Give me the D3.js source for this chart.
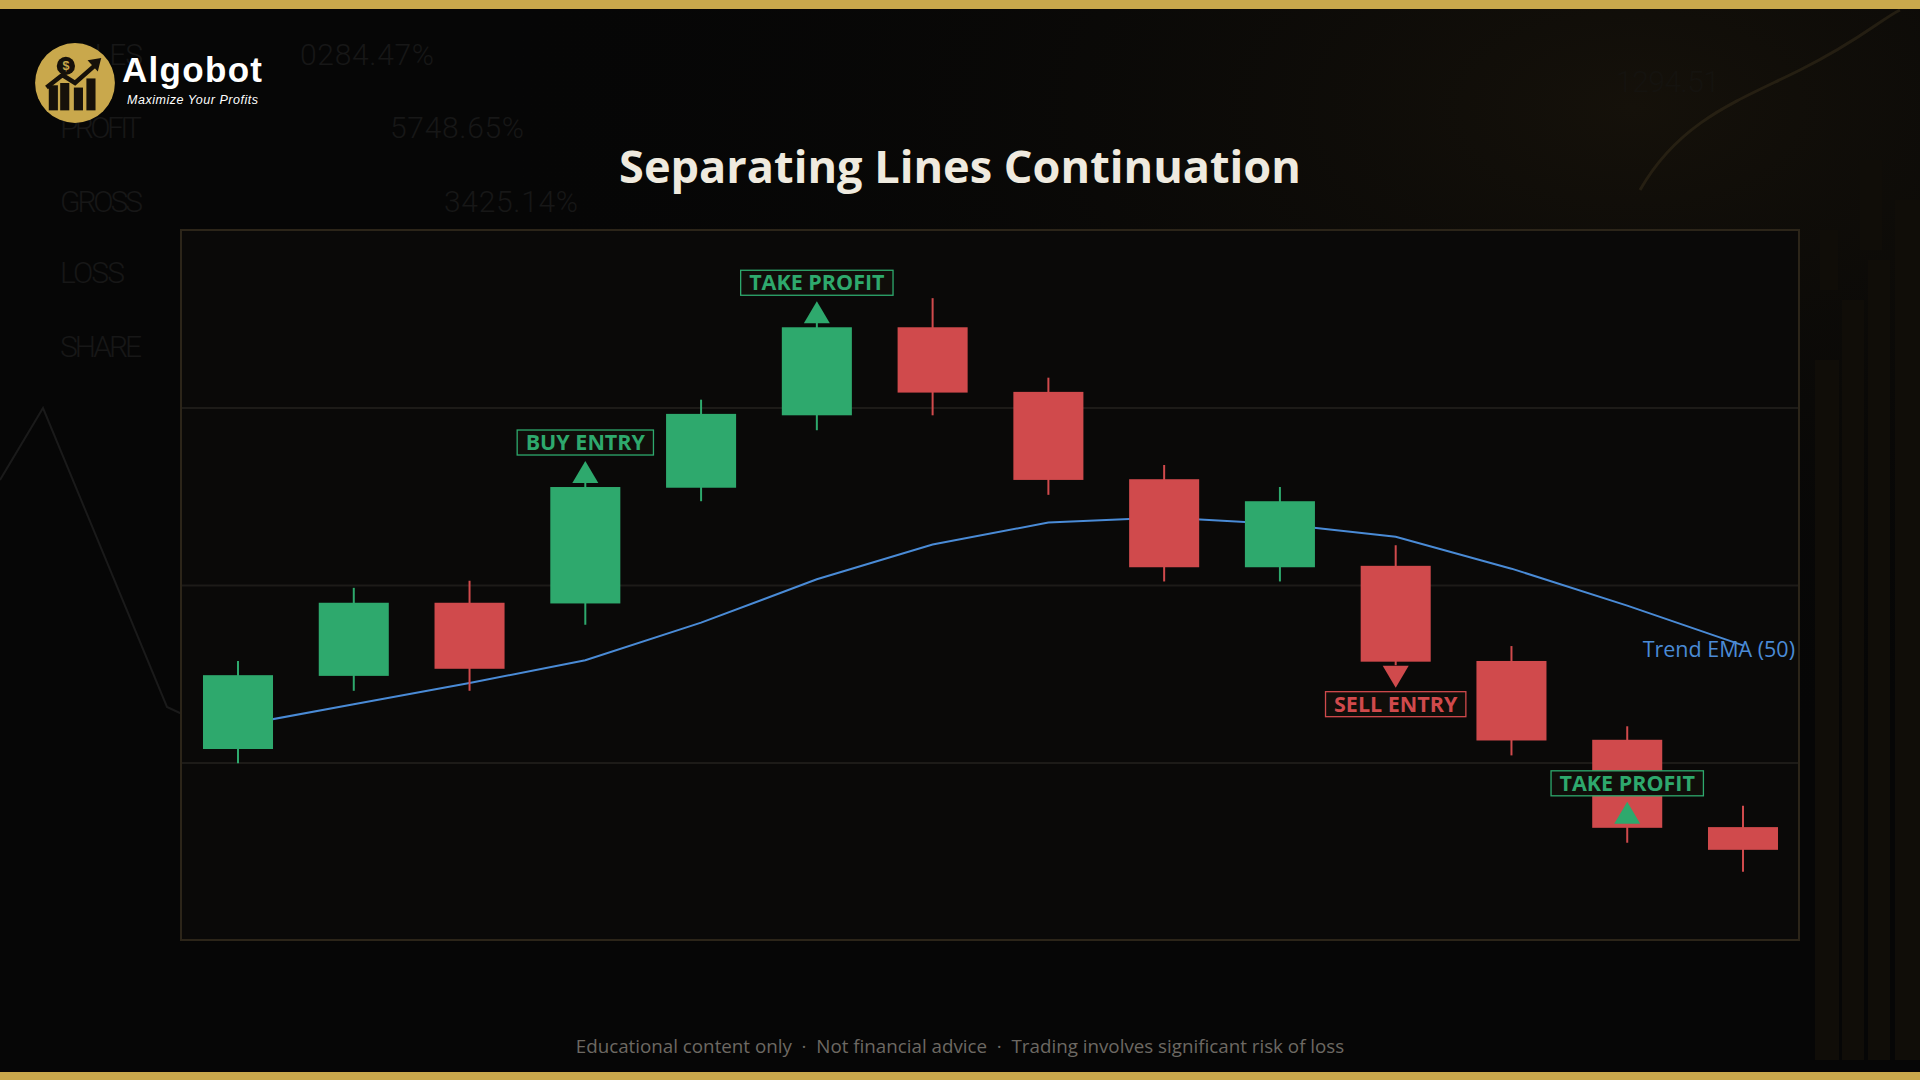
<!DOCTYPE html>
<html><head><meta charset="utf-8">
<script src="https://cdn.jsdelivr.net/npm/d3@7"></script>
<style>
html,body{margin:0;padding:0;background:#060606;overflow:hidden}
svg{display:block}
</style>
</head><body>
<svg id="chart" width="1920" height="1080"></svg>
<script>
// ---------- data ----------
const candleIds   = ["C1","C2","C3","C4","C5","C6","C7","C8","C9","C10","C11","C12","C13","C14"];
const openValues  = [26.9, 37.2, 47.5, 47.4, 63.7, 73.9, 86.3, 77.2, 64.9, 52.5, 52.7, 39.3, 28.2, 15.9];
const highValues  = [39.3, 49.6, 50.6, 64.4, 76.1, 87.0, 90.4, 79.2, 66.9, 63.8, 55.6, 41.4, 30.1, 18.9];
const lowValues   = [24.9, 35.1, 35.1, 44.4, 61.8, 71.8, 73.9, 62.7, 50.5, 50.5, 38.7, 26.0, 13.7,  9.6];
const closeValues = [37.3, 47.5, 38.2, 63.8, 74.1, 86.3, 77.1, 64.8, 52.5, 61.8, 39.2, 28.1, 15.8, 12.7];
const emaValues   = [30.2, 33.2, 36.2, 39.4, 44.7, 50.8, 55.7, 58.8, 59.5, 58.6, 56.8, 52.3, 47.1, 41.5];
const gridTicks   = [25, 50, 75];
const signalCandles    = ["C4", "C6", "C11", "C13"];
const signalLabels     = ["BUY ENTRY", "TAKE PROFIT", "SELL ENTRY", "TAKE PROFIT"];
const signalDirections = ["up", "up", "down", "up"];
const titleText  = "Separating Lines Continuation";
const emaLabel   = "Trend EMA (50)";
const footerText = "Educational content only  ·  Not financial advice  ·  Trading involves significant risk of loss";
const brandName  = "Algobot";
const brandTag   = "Maximize Your Profits";
const bgStatLabels = ["SALES", "PROFIT", "GROSS", "LOSS", "SHARE"];
const bgStatValues = ["0284.47%", "5748.65%", "3425.14%"];
const bgCornerValue = "1294.51";

// ---------- styles / layout ----------
const W = 1920, H = 1080;
const GOLD = "#c9a84c", GREEN = "#2ea96d", RED = "#d04a4c", BLUE = "#4a8bd6";
const frame = {x: 181, y: 230, w: 1618, h: 710};
const SANS = "'Open Sans', 'Noto Sans', sans-serif";

const svg = d3.select("#chart");

// background
svg.append("rect").attr("width", W).attr("height", H).attr("fill", "#060606");
const grad = svg.append("defs").append("radialGradient").attr("id", "warm")
  .attr("cx", "0.85").attr("cy", "0.1").attr("r", "0.6");
grad.append("stop").attr("offset", "0").attr("stop-color", "#15110a");
grad.append("stop").attr("offset", "1").attr("stop-color", "#060606").attr("stop-opacity", 0);
svg.append("rect").attr("width", W).attr("height", H).attr("fill", "url(#warm)");

// faint background decoration (stats board)
const deco = svg.append("g").attr("font-family", "Roboto, sans-serif").attr("font-weight", 300)
  .attr("font-size", 30).attr("fill", "#171717");
const statRows = [65, 138, 212, 283, 357];
const statLabelW = [83, 82, 83, 65, 82];
deco.selectAll("text.lbl").data(bgStatLabels).join("text").attr("class", "lbl")
  .attr("x", 60).attr("y", (d, i) => statRows[i]).attr("textLength", (d, i) => statLabelW[i])
  .text(d => d);
const statValX = [300, 390, 444];
deco.selectAll("text.val").data(bgStatValues).join("text").attr("class", "val")
  .attr("x", (d, i) => statValX[i]).attr("y", (d, i) => statRows[i]).attr("textLength", 134)
  .text(d => d);
deco.append("text").attr("x", 1616).attr("y", 92).attr("fill", "#15130f").attr("textLength", 104).text(bgCornerValue);
svg.append("path").attr("d", "M0,480 L43,408 L167,707 L182,714").attr("fill", "none")
  .attr("stroke", "#1a1a1a").attr("stroke-width", 2);
svg.append("path").attr("d", "M1640,190 C1680,120 1740,100 1800,70 S1880,20 1900,10").attr("fill", "none")
  .attr("stroke", "#3a301c").attr("stroke-opacity", 0.5).attr("stroke-width", 3);
const sideBars = [[1815, 360, 24, 700], [1842, 300, 22, 760], [1868, 260, 22, 800], [1895, 200, 25, 860], [1820, 230, 18, 60], [1860, 160, 22, 90]];
svg.selectAll("rect.side").data(sideBars).join("rect").attr("class", "side")
  .attr("x", d => d[0]).attr("y", d => d[1]).attr("width", d => d[2]).attr("height", d => d[3])
  .attr("fill", "#100d08");

// gold bars
svg.append("rect").attr("x", 0).attr("y", 0).attr("width", W).attr("height", 9).attr("fill", GOLD);
svg.append("rect").attr("x", 0).attr("y", 1072).attr("width", W).attr("height", 8).attr("fill", GOLD);

// ---------- logo ----------
const logo = svg.append("g").attr("transform", "translate(75,83) scale(1.14)");
logo.append("circle").attr("r", 35).attr("fill", GOLD);
const dark = "#16110a";
[[-23, 2, 8, 22], [-13, 0, 8, 24], [-1, 4, 8, 20], [10, -4, 8, 28]].forEach(b => {
  logo.append("rect").attr("x", b[0]).attr("y", b[1]).attr("width", b[2]).attr("height", b[3]).attr("fill", dark);
});
logo.append("path").attr("d", "M-25,4 L-11,-7 L0,0 L17,-15").attr("fill", "none")
  .attr("stroke", dark).attr("stroke-width", 4).attr("stroke-linejoin", "miter");
logo.append("path").attr("d", "M11,-20 L23,-22 L20,-10 Z").attr("fill", dark);
logo.append("circle").attr("cx", -8).attr("cy", -15).attr("r", 8).attr("fill", dark);
logo.append("text").attr("x", -8).attr("y", -15).attr("dy", "0.36em").attr("text-anchor", "middle")
  .attr("font-family", "'Liberation Sans', Arial, sans-serif").attr("font-weight", 700)
  .attr("font-size", 11).attr("fill", GOLD).text("$");
svg.append("text").attr("x", 122).attr("y", 82).attr("font-family", "'Liberation Sans', Arial, sans-serif")
  .attr("font-weight", 700).attr("font-size", 35).attr("fill", "#ffffff")
  .attr("textLength", 140).text(brandName);
svg.append("text").attr("x", 127).attr("y", 104).attr("font-family", "'Liberation Sans', Arial, sans-serif")
  .attr("font-style", "italic").attr("font-size", 12.5).attr("fill", "#ffffff")
  .attr("textLength", 131).text(brandTag);

// ---------- title ----------
const title = svg.append("text").attr("x", 960).attr("y", 183).attr("text-anchor", "middle")
  .attr("font-family", SANS).attr("font-weight", 700).attr("font-size", 48)
  .attr("fill", "#efeadf").text(titleText);
const tw = title.node().getComputedTextLength();
title.attr("font-size", 48 * 682 / tw);

// ---------- chart frame ----------
svg.append("rect").attr("x", frame.x).attr("y", frame.y).attr("width", frame.w).attr("height", frame.h)
  .attr("fill", "#0a0908").attr("stroke", "#2c2519").attr("stroke-width", 2);

const x = d3.scalePoint().domain(candleIds).range([238, 1743]);
const y = d3.scaleLinear().domain([0, 100]).range([frame.y + frame.h, frame.y]);
const bodyW = x.step() * 0.605;

// grid via axis
const gridAxis = d3.axisLeft(y).tickValues(gridTicks).tickSize(-(frame.w - 2)).tickFormat("");
const gg = svg.append("g").attr("transform", `translate(${frame.x + 1},0)`).call(gridAxis);
gg.select(".domain").remove();
gg.selectAll(".tick line").attr("stroke", "#1d1b18").attr("stroke-width", 2);

// EMA line (behind candles)
const emaData = candleIds.map((c, i) => ({c, v: emaValues[i]}));
const line = d3.line().x(d => x(d.c)).y(d => y(d.v));
svg.append("path").datum(emaData).attr("d", line).attr("fill", "none")
  .attr("stroke", BLUE).attr("stroke-width", 2);

// candles
const candles = candleIds.map((c, i) => ({c, o: openValues[i], h: highValues[i], l: lowValues[i], cl: closeValues[i]}));
const cg = svg.append("g").selectAll("g").data(candles).join("g");
cg.append("line").attr("x1", d => x(d.c)).attr("x2", d => x(d.c))
  .attr("y1", d => y(d.h)).attr("y2", d => y(d.l))
  .attr("stroke", d => d.cl >= d.o ? GREEN : RED).attr("stroke-width", 2);
cg.append("rect").attr("x", d => x(d.c) - bodyW / 2).attr("width", bodyW)
  .attr("y", d => y(Math.max(d.o, d.cl))).attr("height", d => Math.abs(y(d.o) - y(d.cl)))
  .attr("fill", d => d.cl >= d.o ? GREEN : RED);

// EMA label
const lastIdx = candleIds.length - 1;
svg.append("text").attr("x", frame.x + frame.w - 4).attr("y", y(emaValues[lastIdx]) + 12)
  .attr("text-anchor", "end").attr("font-family", SANS).attr("font-size", 21.5)
  .attr("fill", BLUE).text(emaLabel);

// signals
const signals = signalCandles.map((c, i) => {
  const idx = candleIds.indexOf(c);
  return {c, label: signalLabels[i], dir: signalDirections[i], v: closeValues[idx]};
});
const sg = svg.append("g").selectAll("g").data(signals).join("g");
sg.each(function(d) {
  const g = d3.select(this);
  const col = d.dir === "down" ? RED : GREEN;
  const cx = x(d.c), yc = y(d.v);
  let base, tip, boxTop;
  if (d.dir === "up") { base = yc - 4; tip = base - 22; boxTop = tip - 6 - 25; }
  else { base = yc + 4; tip = base + 22; boxTop = tip + 4; }
  g.append("path").attr("d", `M${cx - 13},${base} L${cx + 13},${base} L${cx},${tip} Z`).attr("fill", col);
  const box = g.append("rect").attr("y", boxTop).attr("height", 25)
    .attr("fill", "#100e0a").attr("stroke", col).attr("stroke-width", 1.3);
  const t = g.append("text").attr("x", cx).attr("y", boxTop + 12.5).attr("dy", "0.35em")
    .attr("text-anchor", "middle").attr("font-family", SANS).attr("font-weight", 700)
    .attr("font-size", 21.5).attr("fill", col).text(d.label);
  const w = t.node().getComputedTextLength() + 17;
  box.attr("x", cx - w / 2).attr("width", w);
});

// footer
const foot = svg.append("text").attr("x", 960).attr("y", 1053).attr("text-anchor", "middle")
  .attr("font-family", SANS).attr("font-size", 17).attr("fill", "#6d6963")
  .style("white-space", "pre").text(footerText);
const fw = foot.node().getComputedTextLength();
foot.attr("font-size", 17 * 769 / fw);
</script>
</body></html>
